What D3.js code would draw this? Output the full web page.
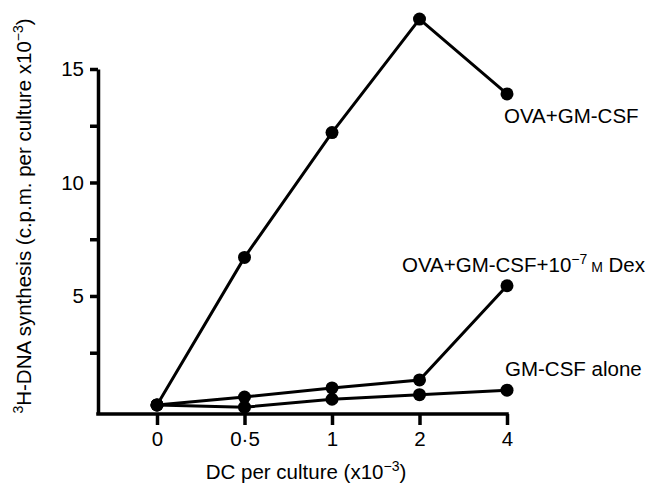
<!DOCTYPE html>
<html>
<head>
<meta charset="utf-8">
<script src="https://cdn.jsdelivr.net/npm/d3@7"></script>
<style>
  body { margin: 0; background: #fff; }
  svg text { font-family: "Liberation Sans", Arial, sans-serif; fill: #000; }
</style>
</head>
<body>
<div id="chart"></div>
<script>
// DC per culture (x10^-3), categorical steps
const doses = ["0", "0·5", "1", "2", "4"];
// 3H-DNA synthesis (c.p.m. per culture x10^-3)
const ovaGmcsf = [0.2, 6.7, 12.2, 17.2, 13.9];
const ovaGmcsfDex = [0.2, 0.55, 0.95, 1.3, 5.45];
const gmcsfAlone = [0.2, 0.1, 0.45, 0.65, 0.85];
const yTicks = [2.5, 5, 7.5, 10, 12.5, 15];

const width = 648;
const height = 484;
const fs = "20.5px";
const fsSup = "14px";

const svg = d3.select("#chart")
    .append("svg")
    .attr("width", width)
    .attr("height", height)

const x = d3.scalePoint()
    .domain(doses)
    .range([157, 507])

const y = d3.scaleLinear()
    .domain([-0.2, 15])
    .range([414, 69])

const axisX = 98;

// y axis
const yAxis = svg.append("g")
    .attr("transform", "translate(" + axisX + ",0)")
    .call(d3.axisLeft(y)
        .tickValues(yTicks)
        .tickSize(8)
        .tickSizeOuter(0)
        .tickPadding(6)
        .tickFormat(d => d % 5 === 0 ? d : ""))
yAxis.select(".domain").attr("stroke-width", 3.5)
yAxis.selectAll(".tick line").attr("stroke-width", 3.5)
yAxis.selectAll(".tick text").attr("font-size", fs)

// x axis
const xAxis = svg.append("g")
    .attr("transform", "translate(0," + y(-0.2) + ")")
    .call(d3.axisBottom(x).tickSize(11).tickPadding(6))
xAxis.select(".domain").remove()
xAxis.selectAll(".tick line").attr("stroke-width", 3.5)
xAxis.selectAll(".tick text").attr("font-size", fs)

svg.append("line")
    .attr("x1", axisX - 1.75)
    .attr("x2", x(doses[doses.length - 1]) + 1.75)
    .attr("y1", y(-0.2))
    .attr("y2", y(-0.2))
    .attr("stroke", "#000")
    .attr("stroke-width", 3.5)

const series = [
    { name: "ova", values: ovaGmcsf },
    { name: "dex", values: ovaGmcsfDex },
    { name: "alone", values: gmcsfAlone }
];

const line = d3.line()
    .x((d, i) => x(doses[i]))
    .y(d => y(d))

series.forEach(function (s) {
    svg.append("path")
        .datum(s.values)
        .attr("d", line)
        .attr("fill", "none")
        .attr("stroke", "#000")
        .attr("stroke-width", 3)

    svg.selectAll(".pt-" + s.name)
        .data(s.values)
        .enter()
        .append("circle")
        .attr("class", "pt-" + s.name)
        .attr("cx", (d, i) => x(doses[i]))
        .attr("cy", d => y(d))
        .attr("r", 6.5)
        .attr("fill", "#000")
})

// series labels
const last = doses[doses.length - 1];

svg.append("text")
    .attr("x", x(last) - 3)
    .attr("y", y(ovaGmcsf[4]) + 29)
    .attr("font-size", fs)
    .text("OVA+GM-CSF")

const dexLabel = svg.append("text")
    .attr("x", 645)
    .attr("y", y(ovaGmcsfDex[4]) - 14)
    .attr("text-anchor", "end")
    .attr("font-size", fs)
dexLabel.append("tspan").text("OVA+GM-CSF+10")
dexLabel.append("tspan").attr("dy", -8).attr("font-size", fsSup).text("−7")
dexLabel.append("tspan").attr("dy", 8).attr("font-size", fsSup).text(" M")
dexLabel.append("tspan").text(" Dex")

svg.append("text")
    .attr("x", x(last) - 2)
    .attr("y", y(gmcsfAlone[4]) - 14)
    .attr("font-size", fs)
    .text("GM-CSF alone")

// axis titles
const xTitle = svg.append("text")
    .attr("x", 306)
    .attr("y", 479)
    .attr("text-anchor", "middle")
    .attr("font-size", fs)
xTitle.append("tspan").text("DC per culture (x10")
xTitle.append("tspan").attr("dy", -8).attr("font-size", fsSup).text("−3")
xTitle.append("tspan").attr("dy", 8).text(")")

const yTitle = svg.append("text")
    .attr("transform", "translate(31,216) rotate(-90)")
    .attr("text-anchor", "middle")
    .attr("font-size", fs)
yTitle.append("tspan").attr("dy", -8).attr("font-size", fsSup).text("3")
yTitle.append("tspan").attr("dy", 8).text("H-DNA synthesis (c.p.m. per culture x10")
yTitle.append("tspan").attr("dy", -8).attr("font-size", fsSup).text("−3")
yTitle.append("tspan").attr("dy", 8).text(")")
</script>
</body>
</html>
